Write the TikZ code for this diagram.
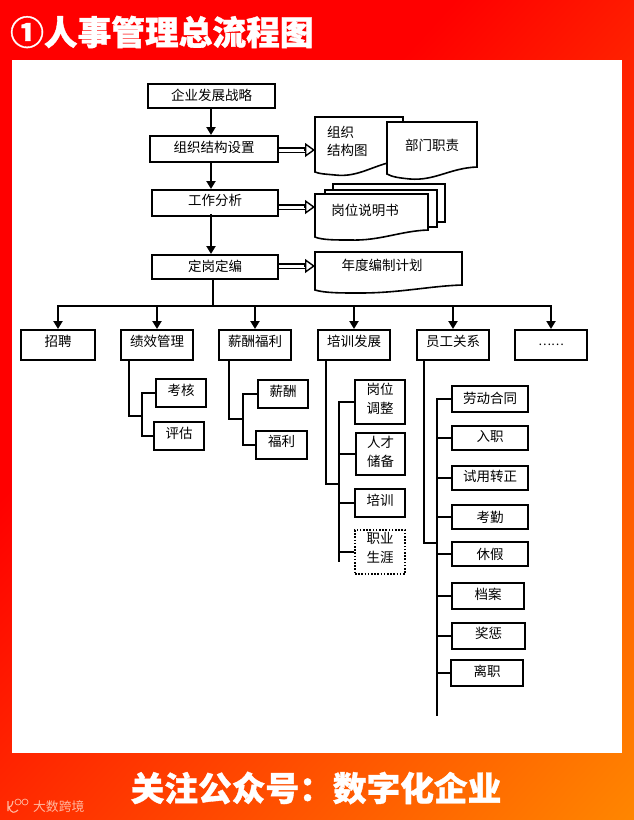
\documentclass[tikz,border=0pt]{standalone}
\usepackage{fontspec}
\usetikzlibrary{arrows.meta}
\newfontfamily\cjk{Noto Sans CJK SC}[BoldFeatures={FakeBold=1}]
\definecolor{markpink}{HTML}{FFB8A0}
\definecolor{bannerend}{HTML}{FF8800}
\tikzset{
  hrbox/.style={draw,fill=white,line width=2pt,inner sep=0pt,align=center,font=\cjk\fontsize{13.5}{19}\selectfont},
  lift/.style={text height=10pt,text depth=#1*2pt},
  dotbox/.style={hrbox,line width=1.6pt,dash pattern=on 1.6pt off 1.6pt},
  docline/.style={draw,fill=white,line width=1.6pt},
  doctext/.style={inner sep=0pt,align=left,font=\cjk\fontsize{13.5}{18}\selectfont},
  flowline/.style={line width=2pt,-{Triangle[width=9pt,length=8pt]}},
  openshaft/.style={line width=1.4pt,double,double distance=3pt},
  openhead/.style={line width=1.4pt,-{Triangle[open,fill=white,width=14pt,length=10pt]}},
  treeline/.style={line width=2pt},
  banner/.style={inner sep=0pt,text=white,font=\cjk\bfseries\fontsize{33.7}{36}\selectfont},
}
\begin{document}
\begin{tikzpicture}[x=1pt,y=-1pt]
	\useasboundingbox (0,0) rectangle (634,820);
	\fill[red] (0,0) rectangle (634,820);
	\begin{scope}
	\clip (0,0) rectangle (634,820);
	\begin{scope}[transform canvas={rotate=-42.3}]
	\shade[left color=red,right color=bannerend] (336,-700) rectangle (1030,700);
	\end{scope}
	\end{scope}
	\fill[white] (12,60) rectangle (622,753);
	\node[banner,anchor=west] (title) at (10,32) {①人事管理总流程图};
	\node[banner] (follow) at (316,788) {关注公众号：数字化企业};
	\node[inner sep=0pt,text=markpink,font=\cjk\fontsize{12.8}{14}\selectfont,anchor=west] (mark) at (33,807) {大数跨境};
	\draw[markpink,line width=1.1pt] (8,801) -- (8,811) (9,807) .. controls (13,806) and (12,803) .. (13,801) (9,807) .. controls (11,814) and (15,813) .. (18,810);
	\draw[markpink,line width=.7pt] (18,802) circle (3) (25,802) circle (3);

	% main chain
	\node[hrbox,lift=1,minimum width=127pt,minimum height=24pt] (strategy) at (211.5,96) {企业发展战略};
	\node[hrbox,lift=2,minimum width=128pt,minimum height=26pt] (setup) at (214,149) {组织结构设置};
	\node[hrbox,lift=2.3,minimum width=126pt,minimum height=26pt] (analysis) at (215,203) {工作分析};
	\node[hrbox,lift=1,minimum width=126pt,minimum height=24pt] (staffing) at (215,267) {定岗定编};
	\draw[flowline] (strategy.south -| 211,0) -- (setup.north -| 211,0);
	\draw[flowline] (setup.south -| 211,0) -- (analysis.north -| 211,0);
	\draw[flowline] ([yshift=3pt]analysis.south -| 211,0) -- (staffing.north -| 211,0);

	% documents
	\draw[docline] (315,117) -- (403,117) -- (403,160) .. controls (375,163) and (360,178) .. (335,175) .. controls (325,174) and (320,174) .. (315,172) -- cycle;
	\draw[docline] (387,122) -- (477,122) -- (477,167) .. controls (450,168) and (435,181) .. (410,179) .. controls (400,178) and (392,177) .. (387,174) -- cycle;
	\node[doctext,anchor=north west] (chart) at (327,125.5) {组织\\结构图};
	\node[doctext,anchor=center] (duty) at (432,145) {部门职责};
	\draw[docline] (333,184) -- (445,184) -- (445,222) -- (333,222) -- cycle;
	\draw[docline] (325,190) -- (437,190) -- (437,227) -- (325,227) -- cycle;
	\draw[docline] (315,194) -- (428,194) -- (428,230) .. controls (400,231) and (380,241) .. (350,240) .. controls (335,240) and (322,240) .. (315,237) -- cycle;
	\node[doctext,anchor=center] (post) at (365,210) {岗位说明书};
	\draw[docline] (315,252) -- (462,252) -- (462,285) .. controls (430,286) and (400,293) .. (360,293) .. controls (340,293) and (325,293) .. (315,290) -- cycle;
	\node[doctext,anchor=center] (plan) at (382,265) {年度编制计划};
	\coordinate (chartin) at (315,150);
	\coordinate (postin) at (315,207);
	\coordinate (planin) at (315,266);
	\draw[openshaft] (setup.east |- chartin) -- ([xshift=-10pt]chartin);
	\draw[openhead] ([xshift=-11pt]chartin) -- (chartin);
	\draw[openshaft] (analysis.east |- postin) -- ([xshift=-10pt]postin);
	\draw[openhead] ([xshift=-11pt]postin) -- (postin);
	\draw[openshaft] (staffing.east |- planin) -- ([xshift=-10pt]planin);
	\draw[openhead] ([xshift=-11pt]planin) -- (planin);

	% second row
	\node[hrbox,lift=3.5,minimum width=74pt,minimum height=30pt] (hire) at (58,345) {招聘};
	\node[hrbox,lift=3.5,minimum width=72pt,minimum height=30pt] (perf) at (157,345) {绩效管理};
	\node[hrbox,lift=3.5,minimum width=72pt,minimum height=30pt] (pay) at (255,345) {薪酬福利};
	\node[hrbox,lift=3.5,minimum width=72pt,minimum height=30pt] (train) at (354,345) {培训发展};
	\node[hrbox,lift=3.5,minimum width=72pt,minimum height=30pt] (staff) at (453,345) {员工关系};
	\node[hrbox,lift=5,minimum width=72pt,minimum height=30pt,font=\cjk\fontsize{12}{14}\selectfont] (more) at (551,345) {……};
	\coordinate (busrow) at (213,306);
	\draw[treeline] (staffing.south -| busrow) -- (busrow);
	\draw[flowline] (busrow) -| (hire.north);
	\draw[flowline] (busrow) -| (perf.north);
	\draw[flowline] (busrow) -| (pay.north);
	\draw[flowline] (busrow) -| (train.north);
	\draw[flowline] (busrow) -| (staff.north);
	\draw[flowline] (busrow) -| (more.north);

	% performance branch
	\node[hrbox,lift=3,minimum width=50pt,minimum height=28pt] (assess) at (181,393) {考核};
	\node[hrbox,lift=3,minimum width=50pt,minimum height=28pt] (review) at (179,436) {评估};
	\coordinate (perfbus) at (142,416);
	\draw[treeline] (perf.south -| 129,0) |- (perfbus);
	\draw[treeline] (assess.west) -| (perfbus) |- (review.west);

	% pay branch
	\node[hrbox,lift=2.3,minimum width=50pt,minimum height=28pt] (salary) at (283,394) {薪酬};
	\node[hrbox,lift=3.3,minimum width=51pt,minimum height=28pt] (welfare) at (281.5,445) {福利};
	\coordinate (paybus) at (243,419);
	\draw[treeline] (pay.south -| 229,0) |- (paybus);
	\draw[treeline] (salary.west) -| (paybus) |- (welfare.west);

	% training branch
	\node[hrbox,minimum width=50pt,minimum height=44pt] (adjust) at (380,402) {岗位\\调整\\[-12pt]\mbox{}};
	\node[hrbox,minimum width=49pt,minimum height=42pt] (reserve) at (380.5,454) {人才\\储备\\[-14pt]\mbox{}};
	\node[hrbox,lift=2.3,minimum width=50pt,minimum height=28pt] (course) at (380,503) {培训};
	\node[dotbox,minimum width=50pt,minimum height=44pt] (career) at (380,552) {职业\\生涯\\[-10pt]\mbox{}};
	\coordinate (trainbus) at (339,484);
	\coordinate (trainend) at (339,562);
	\draw[treeline] (train.south -| 326,0) |- (trainbus);
	\draw[treeline] (adjust.west) -| (trainend);
	\draw[treeline] (reserve.west) -- (reserve.west -| trainbus);
	\draw[treeline] (course.west) -- (course.west -| trainbus);
	\draw[treeline] (career.west) -- (career.west -| trainbus);

	% staff branch
	\node[hrbox,lift=1,minimum width=76pt,minimum height=26pt] (contract) at (490,399) {劳动合同};
	\node[hrbox,lift=1.3,minimum width=76pt,minimum height=24pt] (entry) at (490,438) {入职};
	\node[hrbox,lift=1.3,minimum width=76pt,minimum height=24pt] (probation) at (490,478) {试用转正};
	\node[hrbox,minimum width=76pt,minimum height=24pt] (attend) at (490,517) {考勤};
	\node[hrbox,minimum width=76pt,minimum height=24pt] (leave) at (490,554) {休假};
	\node[hrbox,lift=1.7,minimum width=72pt,minimum height=26pt] (archive) at (488,596) {档案};
	\node[hrbox,lift=3,minimum width=73pt,minimum height=26pt] (reward) at (488.5,636) {奖惩};
	\node[hrbox,lift=1.3,minimum width=72pt,minimum height=26pt] (quit) at (487,673) {离职};
	\coordinate (staffbus) at (437,543);
	\coordinate (staffend) at (437,716);
	\draw[treeline] (staff.south -| 424,0) |- (staffbus);
	\draw[treeline] (contract.west) -| (staffend);
	\draw[treeline] (entry.west) -- (entry.west -| staffbus);
	\draw[treeline] (probation.west) -- (probation.west -| staffbus);
	\draw[treeline] (attend.west) -- (attend.west -| staffbus);
	\draw[treeline] (leave.west) -- (leave.west -| staffbus);
	\draw[treeline] (archive.west) -- (archive.west -| staffbus);
	\draw[treeline] (reward.west) -- (reward.west -| staffbus);
	\draw[treeline] (quit.west) -- (quit.west -| staffbus);
\end{tikzpicture}
\end{document}
